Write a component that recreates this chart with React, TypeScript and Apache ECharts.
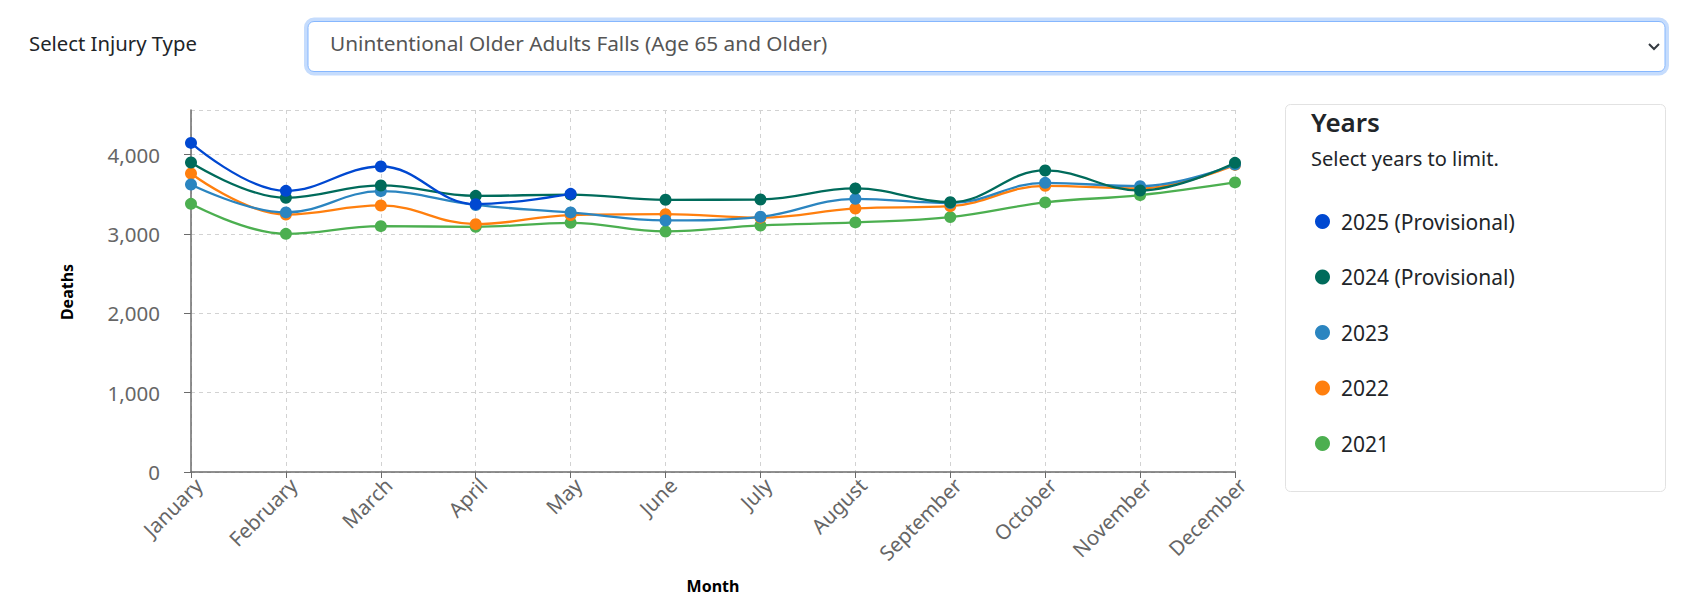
import React, { useEffect, useRef } from "react";
import * as echarts from "echarts";

const months = ["January", "February", "March", "April", "May", "June", "July", "August", "September", "October", "November", "December"];
const yearNames = ["2025 (Provisional)", "2024 (Provisional)", "2023", "2022", "2021"];
const yearColors = ["#0048D1", "#006B5B", "#2B85C0", "#FF7F0E", "#4CAF50"];
const deaths2025 = [4147, 3543, 3850, 3375, 3505];
const deaths2024 = [3900, 3455, 3611, 3480, 3495, 3430, 3434, 3573, 3400, 3800, 3547, 3896];
const deaths2023 = [3623, 3271, 3539, 3365, 3271, 3170, 3216, 3442, 3390, 3644, 3602, 3875];
const deaths2022 = [3762, 3245, 3359, 3123, 3237, 3249, 3205, 3321, 3350, 3606, 3575, 3870];
const deaths2021 = [3379, 3001, 3098, 3089, 3140, 3031, 3107, 3145, 3212, 3397, 3489, 3649];
const yTickValues = [0, 1000, 2000, 3000, 4000];

const FONT = "'Noto Sans', 'Open Sans', sans-serif";

export default function App() {
  const ref = useRef<HTMLDivElement>(null);
  useEffect(() => {
    if (!ref.current) return;
    const chart = echarts.init(ref.current, null, { renderer: "svg" });
    const seriesData = [deaths2025, deaths2024, deaths2023, deaths2022, deaths2021];
    const series = [4, 3, 2, 1, 0].map((i) => ({
      name: yearNames[i],
      type: "line",
      data: seriesData[i],
      smooth: 0.4,
      symbol: "circle",
      symbolSize: 12,
      showSymbol: true,
      z: 10 - i,
      lineStyle: { color: yearColors[i], width: 2.3 },
      itemStyle: { color: yearColors[i] },
      emphasis: { disabled: true },
    }));
    chart.setOption({
      animation: false,
      textStyle: { fontFamily: FONT },
      grid: { left: 191, right: 450, top: 110, bottom: 144, containLabel: false },
      legend: {
        orient: "vertical",
        left: 1310,
        top: 206,
        icon: "circle",
        itemWidth: 15,
        itemHeight: 15,
        itemGap: 34.5,
        data: yearNames,
        selectedMode: false,
        textStyle: { fontSize: 21, color: "#212529", fontFamily: FONT, lineHeight: 15, padding: [0, 0, 0, 6] },
      },
      xAxis: {
        type: "category",
        data: months,
        boundaryGap: false,
        axisLine: { lineStyle: { color: "#6b6b6b", width: 1.5 } },
        axisTick: { show: true, length: 6, alignWithLabel: true, lineStyle: { color: "#6b6b6b" } },
        axisLabel: { rotate: 45, fontSize: 20.5, color: "#666", margin: 2, verticalAlign: "top", fontFamily: FONT, interval: 0 },
        splitLine: { show: true, lineStyle: { type: [4, 4], color: "#d2d2d2", width: 1 } },
      },
      yAxis: {
        type: "value",
        min: 0,
        max: (v: any) => v.max * 1.1,
        interval: 1000,
        axisLine: { show: true, lineStyle: { color: "#6b6b6b", width: 1.5 } },
        axisTick: { show: true, length: 7, lineStyle: { color: "#6b6b6b" } },
        axisLabel: {
          fontSize: 20.5,
          color: "#666",
          margin: 31,
          fontFamily: FONT,
          showMaxLabel: false,
          formatter: (val: number) => (yTickValues.indexOf(val) >= 0 ? val.toLocaleString("en-US") : ""),
        },
        splitLine: { show: true, lineStyle: { type: [4, 4], color: "#d2d2d2", width: 1 } },
      },
      series,
      graphic: [
        {
          type: "text",
          left: 29,
          top: 33,
          style: { text: "Select Injury Type", fontSize: 20.3, fill: "#212529", fontFamily: FONT },
        },
        {
          type: "rect",
          shape: { x: 306, y: 19.5, width: 1361, height: 54, r: 8 },
          style: { fill: "none", stroke: "#c5dcfd", lineWidth: 4 },
        },
        {
          type: "rect",
          shape: { x: 308, y: 21.5, width: 1357, height: 50, r: 6 },
          style: { fill: "#fff", stroke: "#86b7fe", lineWidth: 1 },
        },
        {
          type: "text",
          left: 330,
          top: 32,
          style: { text: "Unintentional Older Adults Falls (Age 65 and Older)", fontSize: 20.8, fill: "#555", fontFamily: FONT },
        },
        {
          type: "polyline",
          shape: { points: [[1649, 44], [1654, 49], [1659, 44]] },
          style: { stroke: "#343a40", lineWidth: 2, fill: "none" },
        },
        {
          type: "rect",
          z: -1,
          shape: { x: 1285.5, y: 104.5, width: 380, height: 387, r: 5 },
          style: { fill: "#fff", stroke: "#e2e2e2", lineWidth: 1 },
        },
        {
          type: "text",
          left: 1311,
          top: 109,
          style: { text: "Years", fontSize: 26, fontWeight: 600, fill: "#212529", fontFamily: FONT },
        },
        {
          type: "text",
          left: 1311,
          top: 148,
          style: { text: "Select years to limit.", fontSize: 20, fill: "#212529", fontFamily: FONT },
        },
        {
          type: "text",
          x: 67,
          y: 292,
          rotation: Math.PI / 2,
          style: { text: "Deaths", fontSize: 16, fontWeight: "bold", fill: "#000", fontFamily: FONT, align: "center", verticalAlign: "middle" },
        },
        {
          type: "text",
          x: 713,
          y: 586,
          style: { text: "Month", fontSize: 16, fontWeight: "bold", fill: "#000", fontFamily: FONT, align: "center", verticalAlign: "middle" },
        },
      ],
    });
    return () => chart.dispose();
  }, []);
  return <div ref={ref} style={{ position: "fixed", left: 0, top: 0, width: 1685, height: 616, background: "#fff" }} />;
}
